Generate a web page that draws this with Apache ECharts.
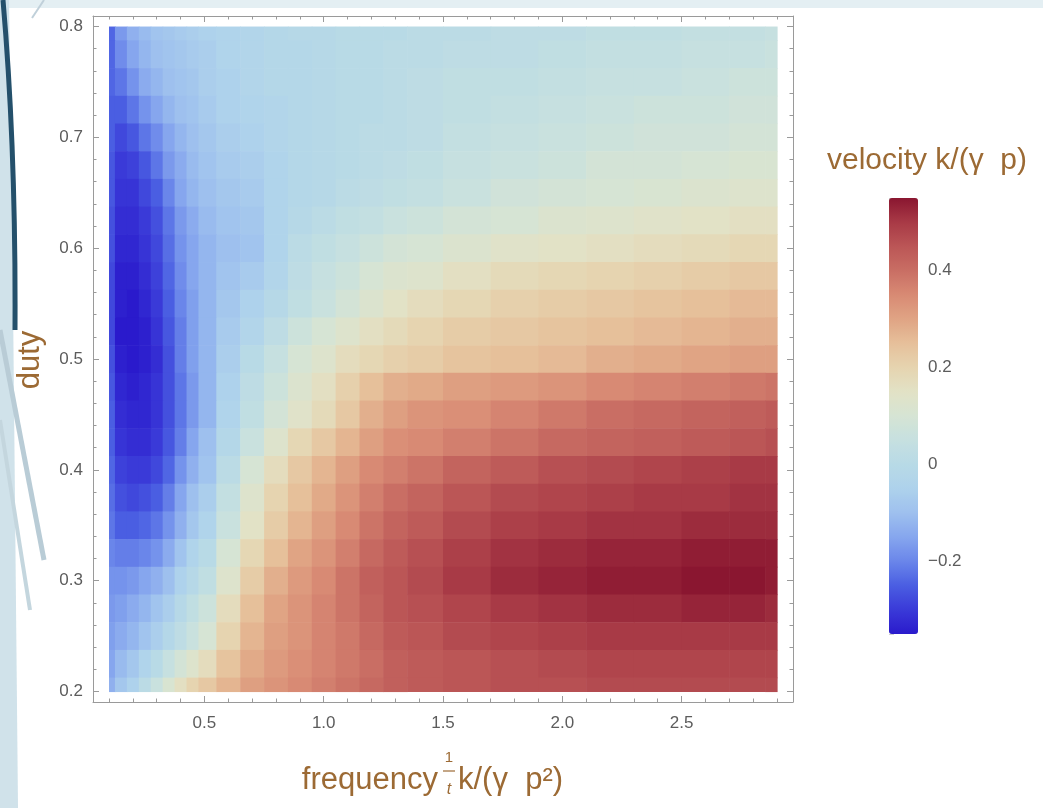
<!DOCTYPE html>
<html><head><meta charset="utf-8">
<script src="https://cdn.jsdelivr.net/npm/echarts@6/dist/echarts.min.js"></script>
<style>html,body{margin:0;padding:0;background:#fff;}#c{width:1043px;height:808px;}</style>
</head><body><div id="c"></div>
<script>
// ---------- data ----------
const freq = [0.1,0.15,0.2,0.25,0.3,0.35,0.4,0.45,0.5,0.6,0.7,0.8,0.9,1.0,1.1,1.2,1.3,1.4,1.6,1.8,2.0,2.2,2.4,2.6,2.8,2.9];
const duty = [0.8,0.775,0.75,0.725,0.7,0.675,0.65,0.625,0.6,0.575,0.55,0.525,0.5,0.475,0.45,0.425,0.4,0.375,0.35,0.325,0.3,0.275,0.25,0.225,0.2];
const d800 = [-0.24,-0.17,-0.13,-0.11,-0.09,-0.08,-0.07,-0.06,-0.05,-0.04,-0.03,-0.02,-0.01,-0.01,0.00,0.00,0.00,0.01,0.01,0.02,0.02,0.03,0.03,0.04,0.04,0.05];
const d775 = [-0.24,-0.19,-0.15,-0.12,-0.10,-0.09,-0.08,-0.07,-0.06,-0.04,-0.03,-0.02,-0.02,-0.01,0.00,0.00,0.01,0.01,0.02,0.02,0.03,0.04,0.04,0.05,0.05,0.06];
const d750 = [-0.24,-0.22,-0.18,-0.14,-0.12,-0.10,-0.09,-0.08,-0.06,-0.05,-0.03,-0.02,-0.02,-0.01,0.00,0.00,0.01,0.02,0.03,0.03,0.04,0.05,0.05,0.06,0.07,0.07];
const d725 = [-0.25,-0.25,-0.22,-0.18,-0.15,-0.12,-0.10,-0.09,-0.07,-0.05,-0.04,-0.03,-0.02,-0.01,0.00,0.00,0.01,0.02,0.03,0.04,0.05,0.06,0.07,0.07,0.08,0.08];
const d700 = [-0.25,-0.28,-0.26,-0.22,-0.19,-0.15,-0.12,-0.10,-0.08,-0.06,-0.05,-0.03,-0.02,-0.01,0.00,0.01,0.01,0.02,0.04,0.05,0.06,0.07,0.08,0.08,0.09,0.09];
const d675 = [-0.26,-0.30,-0.29,-0.26,-0.22,-0.17,-0.14,-0.11,-0.09,-0.07,-0.06,-0.04,-0.02,-0.01,0.00,0.01,0.02,0.03,0.05,0.06,0.07,0.09,0.09,0.10,0.11,0.11];
const d650 = [-0.26,-0.31,-0.31,-0.28,-0.25,-0.20,-0.15,-0.12,-0.10,-0.08,-0.07,-0.04,-0.02,-0.01,0.01,0.02,0.03,0.04,0.06,0.08,0.09,0.10,0.11,0.12,0.13,0.13];
const d625 = [-0.27,-0.32,-0.32,-0.30,-0.27,-0.22,-0.17,-0.14,-0.11,-0.09,-0.08,-0.04,-0.01,0.01,0.03,0.04,0.06,0.07,0.09,0.10,0.12,0.13,0.14,0.15,0.16,0.16];
const d600 = [-0.27,-0.33,-0.33,-0.31,-0.28,-0.23,-0.18,-0.15,-0.12,-0.10,-0.09,-0.04,0.01,0.03,0.05,0.07,0.09,0.10,0.12,0.14,0.15,0.16,0.17,0.18,0.19,0.19];
const d575 = [-0.28,-0.34,-0.34,-0.32,-0.29,-0.24,-0.19,-0.15,-0.12,-0.09,-0.07,-0.03,0.02,0.05,0.07,0.10,0.12,0.13,0.16,0.18,0.19,0.20,0.21,0.22,0.23,0.23];
const d550 = [-0.28,-0.34,-0.35,-0.33,-0.30,-0.25,-0.20,-0.16,-0.12,-0.08,-0.05,-0.01,0.03,0.06,0.09,0.12,0.15,0.17,0.19,0.21,0.22,0.23,0.24,0.25,0.26,0.26];
const d525 = [-0.28,-0.35,-0.35,-0.34,-0.31,-0.26,-0.21,-0.16,-0.12,-0.07,-0.03,0.02,0.07,0.10,0.13,0.16,0.18,0.20,0.22,0.23,0.24,0.25,0.26,0.27,0.28,0.28];
const d500 = [-0.27,-0.34,-0.35,-0.34,-0.32,-0.27,-0.21,-0.16,-0.12,-0.06,0.00,0.05,0.10,0.13,0.17,0.19,0.21,0.22,0.24,0.25,0.26,0.28,0.29,0.30,0.31,0.31];
const d475 = [-0.26,-0.33,-0.34,-0.33,-0.31,-0.27,-0.22,-0.17,-0.12,-0.05,0.02,0.07,0.12,0.16,0.21,0.25,0.28,0.29,0.31,0.32,0.33,0.35,0.36,0.37,0.38,0.39];
const d450 = [-0.25,-0.32,-0.33,-0.33,-0.31,-0.27,-0.22,-0.17,-0.12,-0.04,0.03,0.09,0.14,0.18,0.23,0.28,0.31,0.33,0.34,0.36,0.38,0.40,0.41,0.42,0.43,0.44];
const d425 = [-0.25,-0.31,-0.32,-0.32,-0.30,-0.26,-0.21,-0.15,-0.10,-0.02,0.06,0.13,0.19,0.23,0.27,0.31,0.34,0.35,0.37,0.39,0.41,0.42,0.43,0.44,0.45,0.46];
const d400 = [-0.24,-0.29,-0.30,-0.30,-0.28,-0.24,-0.18,-0.13,-0.09,0.01,0.10,0.17,0.23,0.27,0.31,0.35,0.37,0.39,0.42,0.44,0.46,0.47,0.48,0.49,0.50,0.50];
const d375 = [-0.23,-0.27,-0.28,-0.27,-0.25,-0.21,-0.15,-0.10,-0.06,0.04,0.13,0.20,0.25,0.29,0.33,0.37,0.40,0.42,0.45,0.47,0.48,0.49,0.50,0.50,0.51,0.51];
const d350 = [-0.22,-0.25,-0.25,-0.24,-0.22,-0.18,-0.13,-0.08,-0.04,0.06,0.15,0.22,0.27,0.31,0.35,0.39,0.42,0.44,0.47,0.49,0.50,0.51,0.51,0.52,0.52,0.52];
const d325 = [-0.20,-0.21,-0.21,-0.20,-0.18,-0.14,-0.09,-0.04,0.00,0.10,0.19,0.25,0.30,0.33,0.37,0.41,0.44,0.46,0.49,0.51,0.52,0.53,0.53,0.54,0.54,0.54];
const d300 = [-0.18,-0.18,-0.17,-0.15,-0.13,-0.10,-0.05,-0.01,0.03,0.13,0.22,0.28,0.32,0.35,0.39,0.43,0.45,0.47,0.50,0.52,0.53,0.54,0.54,0.55,0.55,0.54];
const d275 = [-0.17,-0.16,-0.14,-0.12,-0.09,-0.06,-0.01,0.03,0.07,0.17,0.25,0.30,0.33,0.36,0.39,0.42,0.45,0.46,0.48,0.50,0.51,0.52,0.52,0.53,0.53,0.52];
const d250 = [-0.16,-0.14,-0.12,-0.09,-0.06,-0.02,0.02,0.06,0.10,0.20,0.27,0.31,0.33,0.36,0.38,0.41,0.44,0.45,0.47,0.48,0.49,0.50,0.50,0.50,0.50,0.50];
const d225 = [-0.15,-0.11,-0.08,-0.04,0.00,0.05,0.09,0.13,0.17,0.24,0.29,0.32,0.34,0.36,0.38,0.40,0.43,0.44,0.45,0.46,0.47,0.48,0.48,0.48,0.48,0.48];
const d200 = [-0.13,-0.08,-0.05,0.01,0.06,0.11,0.16,0.20,0.23,0.27,0.31,0.33,0.35,0.37,0.39,0.41,0.43,0.44,0.45,0.46,0.46,0.47,0.47,0.47,0.47,0.47];
const velocityRows = [d800,d775,d750,d725,d700,d675,d650,d625,d600,d575,d550,d525,d500,d475,d450,d425,d400,d375,d350,d325,d300,d275,d250,d225,d200];

const xTickLabels = [0.5,1.0,1.5,2.0,2.5];
const yTickLabels = [0.2,0.3,0.4,0.5,0.6,0.7,0.8];
const cbTickLabels = [-0.2,0,0.2,0.4];
const cbMin = -0.35, cbMax = 0.55;
const cbColors = ['#2a1acc','#3a3ad8','#4a5ee2','#6a86ea','#86a6ee','#9ec0ee','#aed2ec','#b8dae6','#c6e0e0','#d6e4d4','#e2e2c6','#e6d4b0','#e6c09a','#e0a484','#d88a74','#c96e64','#bb5656','#a83a46','#8a1630'];

// ---------- build ----------
const data = [];
duty.forEach((d, i) => freq.forEach((f, j) => data.push([f, d, velocityRows[i][j], j, i])));
const nx = freq.length, ny = duty.length;
const xLo = freq.map((f, j) => j === 0 ? f : (freq[j - 1] + f) / 2);
const xHi = freq.map((f, j) => j === nx - 1 ? f : (f + freq[j + 1]) / 2);
const yHi = duty.map((d, i) => i === 0 ? d : (duty[i - 1] + d) / 2);
const yLo = duty.map((d, i) => i === ny - 1 ? d : (d + duty[i + 1]) / 2);

const xMinor = []; for (let k = 1; k <= 29; k++) xMinor.push(+(k * 0.1).toFixed(2));
const yMinor = []; for (let k = 10; k <= 40; k++) yMinor.push(+(k * 0.02).toFixed(2));
const cbMinor = []; for (let k = -7; k <= 11; k++) cbMinor.push(+(k * 0.05).toFixed(2));

const X_LO = 0.033, X_HI = 2.967, Y_LO = 0.1905, Y_HI = 0.8095;
const FRAME = '#9a9a9a', LBL = '#5c5c5c', BROWN = '#9c6a34';
const FONT = '"Liberation Sans", Arial, sans-serif';

function xAx(pos, major, label) {
  return {
    type: 'value', gridIndex: 0, position: pos, min: X_LO, max: X_HI,
    axisLine: { show: major, onZero: false, lineStyle: { color: FRAME, width: 1 } },
    axisTick: { show: true, inside: true, length: major ? 6 : 3.5, customValues: major ? xTickLabels : xMinor, lineStyle: { color: FRAME } },
    axisLabel: { show: label, customValues: xTickLabels, margin: 13, color: LBL, fontSize: 17, fontFamily: FONT, formatter: v => v.toFixed(1) },
    splitLine: { show: false }
  };
}
function yAx(pos, major, label) {
  return {
    type: 'value', gridIndex: 0, position: pos, min: Y_LO, max: Y_HI,
    axisLine: { show: major, onZero: false, lineStyle: { color: FRAME, width: 1 } },
    axisTick: { show: true, inside: true, length: major ? 6 : 3.5, customValues: major ? yTickLabels : yMinor, lineStyle: { color: FRAME } },
    axisLabel: { show: label, customValues: yTickLabels, margin: 10, color: LBL, fontSize: 17, fontFamily: FONT, formatter: v => v.toFixed(1) },
    splitLine: { show: false }
  };
}

const chart = echarts.init(document.getElementById('c'), null, { renderer: 'canvas' });
chart.setOption({
  animation: false,
  backgroundColor: '#ffffff',
  grid: [
    { left: 93, top: 16, width: 700, height: 686, containLabel: false },
    { left: 889, top: 198, width: 29, height: 436, containLabel: false }
  ],
  xAxis: [
    xAx('bottom', true, true), xAx('bottom', false, false),
    xAx('top', true, false), xAx('top', false, false),
    { type: 'value', gridIndex: 1, show: false, min: 0, max: 1 }
  ],
  yAxis: [
    yAx('left', true, true), yAx('left', false, false),
    yAx('right', true, false), yAx('right', false, false),
    {
      type: 'value', gridIndex: 1, position: 'right', min: cbMin, max: cbMax,
      axisLine: { show: false },
      axisTick: { show: true, inside: false, length: 5, customValues: cbMinor, lineStyle: { color: '#d0d0d0' } },
      axisLabel: { show: true, customValues: cbTickLabels, margin: 10, color: LBL, fontSize: 17, fontFamily: FONT,
        formatter: v => v === 0 ? '0' : (v < 0 ? '\u2212' : '') + Math.abs(v).toFixed(1) },
      splitLine: { show: false }
    }
  ],
  visualMap: {
    type: 'continuous', min: cbMin, max: cbMax, dimension: 2, seriesIndex: 0,
    calculable: false, hoverLink: false, inRange: { color: cbColors },
    itemWidth: 29, itemHeight: 436, left: 889, top: 198, padding: 0, orient: 'vertical'
  },
  series: [{
    type: 'custom', xAxisIndex: 0, yAxisIndex: 0, data: data, encode: { x: 0, y: 1 }, clip: true,
    renderItem: function (params, api) {
      const j = api.value(3), i = api.value(4);
      const p0 = api.coord([xLo[j], yHi[i]]), p1 = api.coord([xHi[j], yLo[i]]);
      return { type: 'rect', shape: { x: p0[0], y: p0[1], width: p1[0] - p0[0] + 0.6, height: p1[1] - p0[1] + 0.6 },
        style: { fill: api.visual('color') } };
    }
  }],
  graphic: [
    { type: 'rect', z: -10, shape: { x: 0, y: 0, width: 1043, height: 8 }, style: { fill: '#e4eff3' } },
    { type: 'polygon', z: -10, shape: { points: [[0,0],[9,0],[13,300],[18,808],[0,808]] }, style: { fill: '#d0e2ea' } },
    { type: 'bezierCurve', z: -9, shape: { x1: 3, y1: 0, cpx1: 16, cpy1: 150, x2: 15, y2: 330 }, style: { stroke: '#24506b', lineWidth: 5, fill: null } },
    { type: 'line', z: -9, shape: { x1: 0, y1: 330, x2: 44, y2: 560 }, style: { stroke: '#b9ccd6', lineWidth: 5 } },
    { type: 'line', z: -9, shape: { x1: 0, y1: 420, x2: 30, y2: 610 }, style: { stroke: '#c4d6de', lineWidth: 4 } },
    { type: 'line', z: -9, shape: { x1: 32, y1: 18, x2: 44, y2: 0 }, style: { stroke: '#c0d0da', lineWidth: 2 } },
    { type: 'text', x: 30, y: 360, rotation: Math.PI / 2,
      style: { text: 'duty', fontSize: 31, fontFamily: FONT, fill: BROWN, align: 'center', verticalAlign: 'middle' } },
    { type: 'text', x: 438, y: 780, style: { text: 'frequency', fontSize: 31, fontFamily: FONT, fill: BROWN, align: 'right', verticalAlign: 'middle' } },
    { type: 'text', x: 449, y: 758, style: { text: '1', fontSize: 15, fontFamily: FONT, fill: BROWN, align: 'center', verticalAlign: 'middle' } },
    { type: 'line', shape: { x1: 443, y1: 771, x2: 455, y2: 771 }, style: { stroke: BROWN, lineWidth: 1.2 } },
    { type: 'text', x: 449, y: 790, style: { text: 't', fontSize: 16, fontStyle: 'italic', fontFamily: FONT, fill: BROWN, align: 'center', verticalAlign: 'middle' } },
    { type: 'text', x: 458, y: 780, style: { text: 'k/(\u03b3  p\u00b2)', fontSize: 31, fontFamily: FONT, fill: BROWN, align: 'left', verticalAlign: 'middle' } },
    { type: 'text', x: 927, y: 161, style: { text: 'velocity k/(\u03b3  p)', fontSize: 30, fontFamily: FONT, fill: BROWN, align: 'center', verticalAlign: 'middle' } }
  ]
});
</script></body></html>
